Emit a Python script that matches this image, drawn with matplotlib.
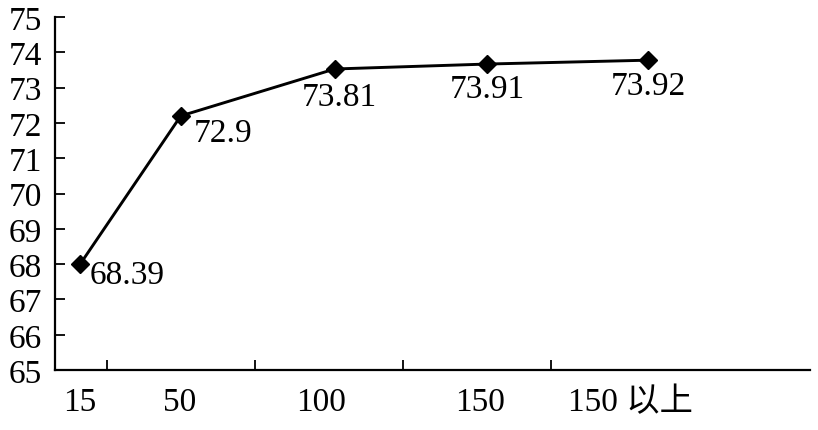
import numpy as np
import matplotlib
matplotlib.use("Agg")
import matplotlib.pyplot as plt
from matplotlib.ticker import FixedLocator

plt.rcParams['font.family'] = ['Liberation Serif', 'Noto Sans CJK SC', 'DejaVu Sans']

# data
categories = ["15", "50", "100", "150", "150 以上"]
values = [68.0, 72.2, 73.53, 73.67, 73.78]          # plotted height of each marker
value_labels = ["68.39", "72.9", "73.81", "73.91", "73.92"]

# layout (category axis is drawn unevenly in the original)
x_pos = [0.32, 1.0, 2.04, 3.07, 4.16]
label_pos = [0.32, 0.99, 1.95, 3.02, 4.04]
label_offsets = [(10, -11, "left"), (13, -17, "left"), (5, -28, "center"),
                 (0, -25, "center"), (0, -26, "center")]

fig = plt.figure(figsize=(8.18, 4.31), dpi=100)
ax = fig.add_axes([0.067, 0.139, 0.923, 0.819])

ax.plot(x_pos, values, color="black", linewidth=2.1, marker="D",
        markersize=9, markerfacecolor="black", markeredgecolor="black")

for x, y, txt, (dx, dy, ha) in zip(x_pos, values, value_labels, label_offsets):
    ax.annotate(txt, (x, y), xytext=(dx, dy), textcoords="offset pixels",
                ha=ha, va="center", fontsize=24)

ax.set_ylim(65, 75)
ax.set_yticks(np.arange(65, 76, 1))
ax.set_xlim(0.149, 5.25)
ax.set_xticks(label_pos)
ax.set_xticklabels(categories)
ax.xaxis.set_minor_locator(FixedLocator([0.5, 1.5, 2.5, 3.5]))

ax.spines["top"].set_visible(False)
ax.spines["right"].set_visible(False)
ax.spines["left"].set_linewidth(1.6)
ax.spines["bottom"].set_linewidth(1.6)

ax.tick_params(axis="y", direction="in", length=7, width=1.3, pad=9, labelsize=24)
ax.tick_params(axis="x", which="major", length=0, pad=12, labelsize=24)
ax.tick_params(axis="x", which="minor", direction="in", length=7, width=1.3)

fig.savefig("out.png", dpi=100)
